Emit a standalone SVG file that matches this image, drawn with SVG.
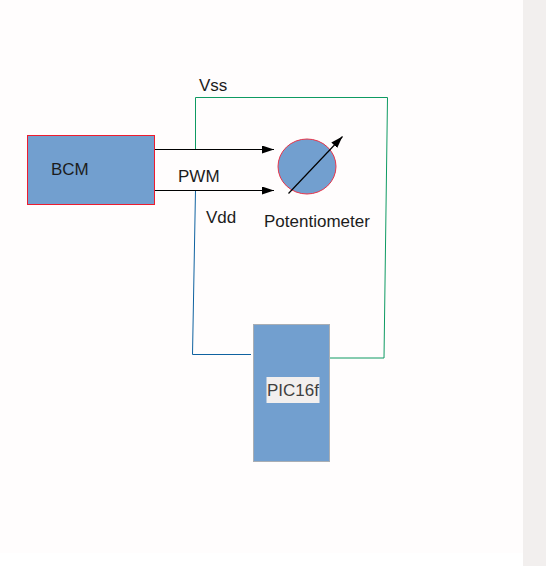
<svg xmlns="http://www.w3.org/2000/svg" width="546" height="566" viewBox="0 0 546 566">
<style>
text{font-family:"Liberation Sans",Arial,sans-serif;font-size:17px;fill:#1c1c1c}
.w{fill:none;stroke-width:1}
.a{fill:none;stroke:#000;stroke-width:1.2}
.f{fill:#729fcf}
</style>
<defs>
<marker id="ah" markerUnits="userSpaceOnUse" markerWidth="13" markerHeight="9" refX="12" refY="4" orient="auto"><path d="M0 0L12 4L0 8Z" fill="#000"/></marker>
</defs>
<rect width="546" height="566" fill="#fff"/>
<rect x="0" y="0" width="523" height="553" fill="#fffdfd"/>
<rect x="523" y="0" width="23" height="566" fill="#f2efee"/>
<g id="connectors">
<path class="w" d="M195.500 150V97.500H387.500L384 358H330" stroke="#0e9a62"/>
<path class="w" d="M195.500 190L192.500 354.500H251" stroke="#0f62a0"/>
<path class="a" d="M155 149.500H274" marker-end="url(#ah)"/>
<path class="a" d="M155 190.500H274" marker-end="url(#ah)"/>
</g>
<g id="bcm"><rect class="f" x="27.500" y="135.500" width="127" height="69" stroke="#ee1c2e"/><text x="51" y="175">BCM</text></g>
<g id="potentiometer"><ellipse class="f" cx="307" cy="166.500" rx="29" ry="27.500" stroke="#e8354a"/><path d="M288.500 193.500L342.500 136.500" class="a" marker-end="url(#ah)"/><text x="264" y="227">Potentiometer</text></g>
<g id="pic16f"><rect class="f" x="253.500" y="324.500" width="76" height="137" stroke="#a9aeb4"/><rect x="266.500" y="377" width="53" height="26" fill="#f2efee"/><text x="267" y="396" style="fill:#3f3f3f">PIC16f</text></g>
<g id="labels"><text x="199" y="91">Vss</text><text x="178" y="182">PWM</text><text x="206" y="223">Vdd</text></g>
</svg>
